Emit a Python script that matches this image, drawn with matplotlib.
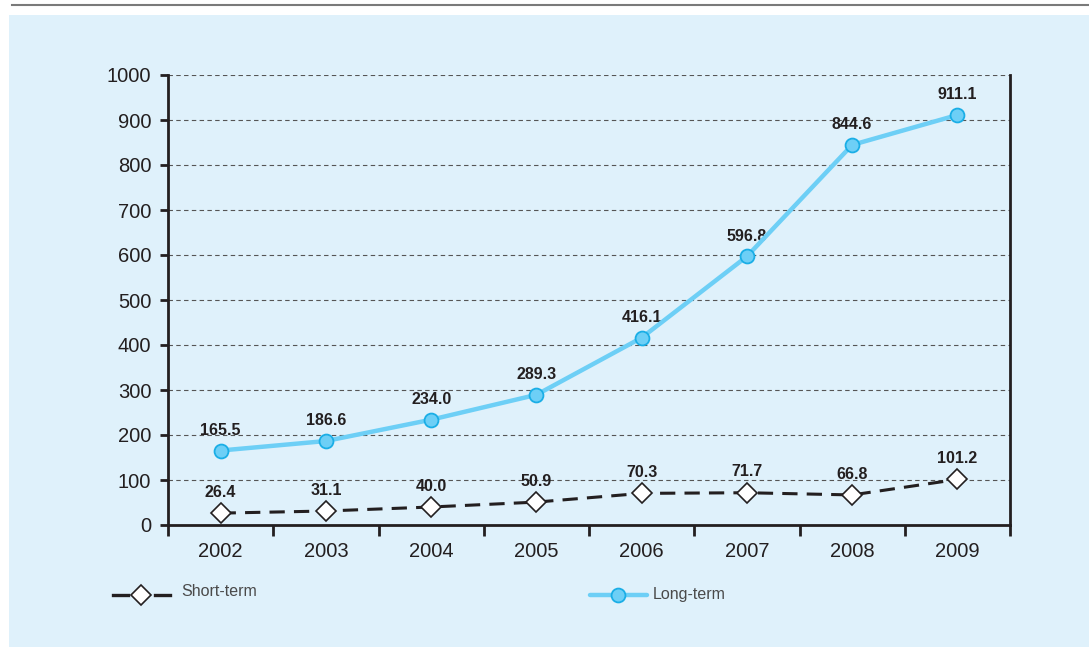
import matplotlib.pyplot as plt
from matplotlib.lines import Line2D
from matplotlib.patches import Rectangle
import numpy as np

# ---- data ----
years = ['2002', '2003', '2004', '2005', '2006', '2007', '2008', '2009']
short_term = [26.4, 31.1, 40.0, 50.9, 70.3, 71.7, 66.8, 101.2]
long_term = [165.5, 186.6, 234.0, 289.3, 416.1, 596.8, 844.6, 911.1]

plt.rcParams['font.family'] = ['Liberation Sans', 'DejaVu Sans']

panel_col = '#dff1fb'
lt_col = '#6dcff6'
lt_edge = '#1aaee6'
dark = '#231f20'

fig = plt.figure(figsize=(10.89, 6.47), dpi=100)
fig.patch.set_facecolor('white')

# background panel and top rule
fig.patches.append(Rectangle((9 / 1089, 0), 1, (647 - 15) / 647, transform=fig.transFigure,
                             facecolor=panel_col, edgecolor='none', zorder=-5))
fig.add_artist(Line2D([12 / 1089, 1], [1 - 5 / 647, 1 - 5 / 647], color='#7a7a7a', lw=1.5))

ax = fig.add_axes([168 / 1089, 1 - 525 / 647, 842 / 1089, 450 / 647])
ax.set_facecolor('none')

x = np.arange(len(years))

ax.plot(x, long_term, color=lt_col, lw=3.2, marker='o', ms=10,
        mfc=lt_col, mec=lt_edge, mew=1.3, zorder=4)
ax.plot(x, short_term, color=dark, lw=2.2, ls=(0, (5, 3)), marker='D', ms=10,
        mfc='white', mec=dark, mew=1.2, zorder=4)

for xi, v in zip(x, long_term):
    ax.annotate(f'{v:.1f}', (xi, v), xytext=(0, 14.5), textcoords='offset points',
                ha='center', va='center', fontsize=11.5, fontweight='bold', color=dark)
for xi, v in zip(x, short_term):
    ax.annotate(f'{v:.1f}', (xi, v), xytext=(0, 15), textcoords='offset points',
                ha='center', va='center', fontsize=11.5, fontweight='bold', color=dark)

ax.set_xlim(-0.5, len(years) - 0.5)
ax.set_ylim(0, 1000)
ax.set_yticks(np.arange(0, 1001, 100))
ax.set_xticks(x)
ax.set_xticklabels(years)
ax.set_xticks(np.arange(-0.5, len(years)), minor=True)
ax.tick_params(axis='x', which='major', length=0, pad=12, labelsize=14.5, colors=dark)
ax.tick_params(axis='x', which='minor', length=8, width=2, direction='out', color=dark)
ax.tick_params(axis='y', length=6, width=2, direction='out', labelsize=14.5, colors=dark, pad=6)

for yv in np.arange(100, 1001, 100):
    ax.axhline(yv, color='#555555', lw=0.8, ls=(0, (4, 3)), zorder=1)

for s in ['left', 'bottom', 'right']:
    ax.spines[s].set_color(dark)
    ax.spines[s].set_linewidth(2)
ax.spines['top'].set_visible(False)

# legend drawn below the axes
ly = 1 - 595 / 647
fig.add_artist(Line2D([113 / 1089, 128 / 1089], [ly, ly], color=dark, lw=2.4))
fig.add_artist(Line2D([155 / 1089, 170 / 1089], [ly, ly], color=dark, lw=2.4))
fig.add_artist(Line2D([141 / 1089], [ly], marker='D', ms=10, mfc='white',
                      mec=dark, mew=1.2))
fig.text(181 / 1089, 1 - 592 / 647, 'Short-term', fontsize=11.5, color='#4a4a4a',
         va='center', ha='left')

fig.add_artist(Line2D([590 / 1089, 647 / 1089], [ly, ly], color=lt_col, lw=3.2,
                      solid_capstyle='round'))
fig.add_artist(Line2D([618 / 1089], [ly], marker='o', ms=10, mfc=lt_col,
                      mec=lt_edge, mew=1.3))
fig.text(653 / 1089, 1 - 594 / 647, 'Long-term', fontsize=11.5, color='#4a4a4a',
         va='center', ha='left')

fig.savefig('out.png', dpi=100)
